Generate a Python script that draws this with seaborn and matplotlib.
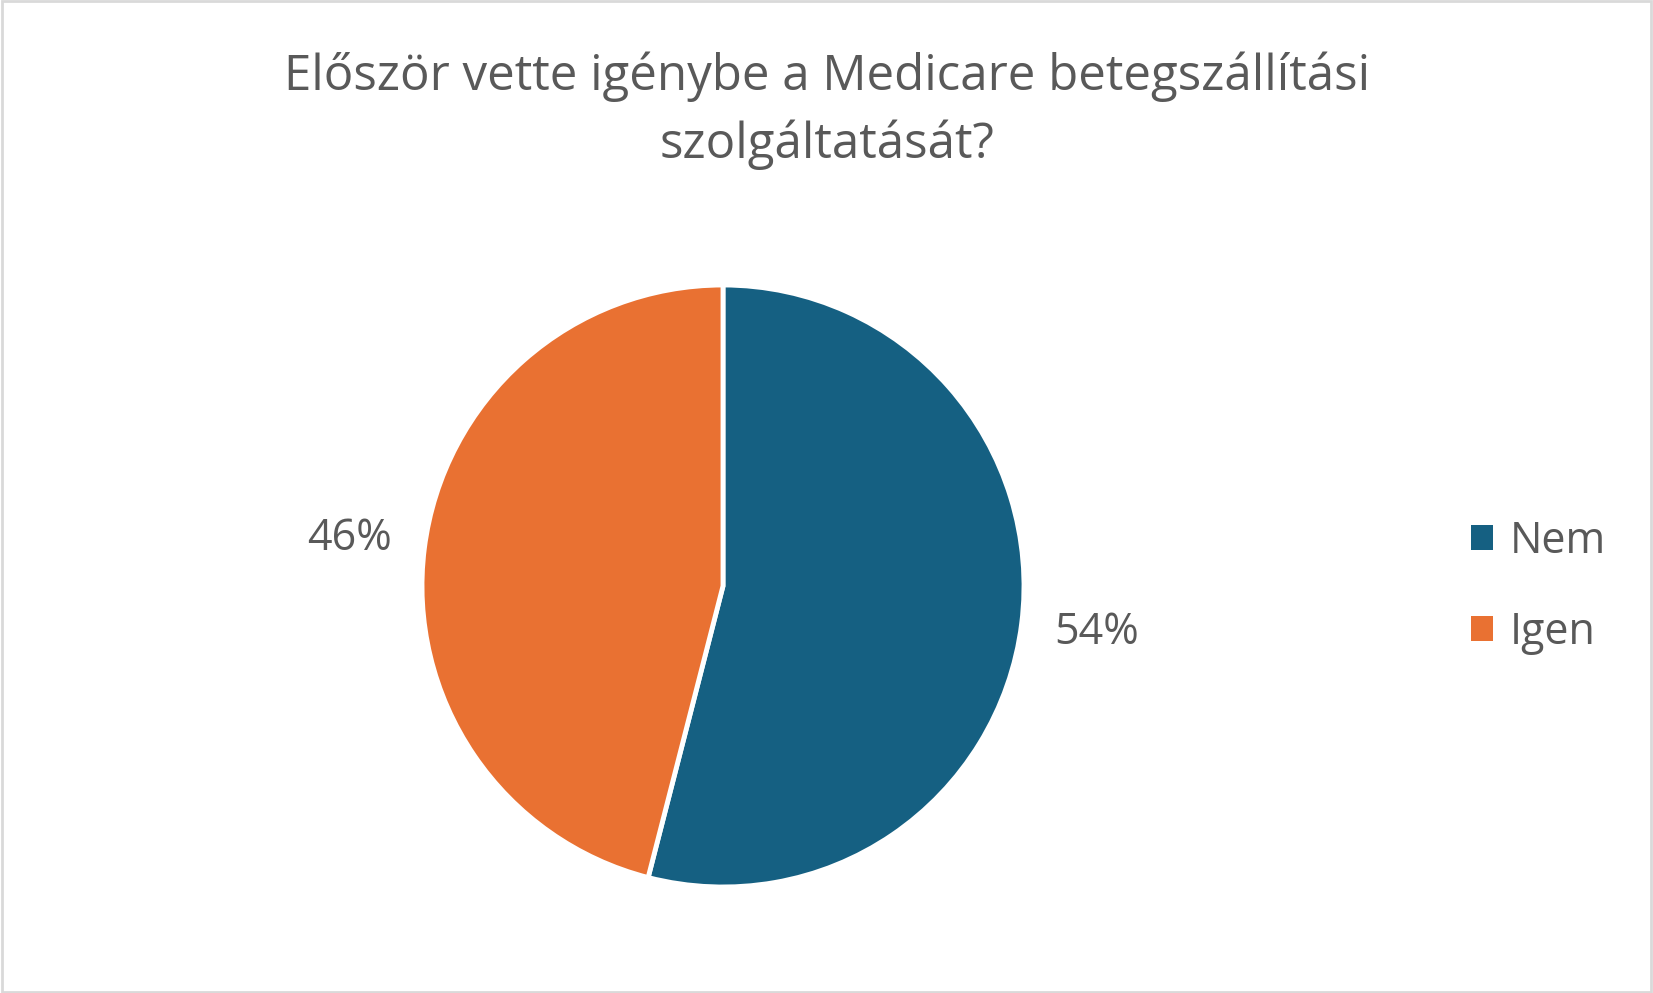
import matplotlib
matplotlib.use("Agg")
import matplotlib.pyplot as plt
import seaborn as sns
from matplotlib.patches import Patch, Rectangle

# Chart data
categories = ["Nem", "Igen"]
shares = [54, 46]
title_text = "Először vette igénybe a Medicare betegszállítási\nszolgáltatását?"

sns.set_theme(style="white")
plt.rcParams['font.family'] = ['Open Sans', 'DejaVu Sans']

palette = sns.color_palette(["#156082", "#E97132"])
text_color = "#595959"

W, H = 1653, 993
fig = plt.figure(figsize=(W / 100, H / 100), dpi=100)
fig.patch.set_facecolor("white")

# pie area, in pixels: centre (723, 586), radius ~301
cx, cy, r = 723, 586, 301
ax = fig.add_axes([(cx - r) / W, (H - cy - r) / H, 2 * r / W, 2 * r / H])
wedges, texts, autotexts = ax.pie(
    shares,
    colors=palette,
    startangle=90,
    counterclock=False,
    autopct=lambda p: f"{p:.0f}%",
    pctdistance=1.25,
    wedgeprops=dict(edgecolor="white", linewidth=3.5),
    textprops=dict(color=text_color, fontsize=31),
)
ax.set_xlim(-1, 1)
ax.set_ylim(-1, 1)
ax.set_aspect("equal")
ax.axis("off")

fig.text(0.5, 1 - 111 / H, title_text, ha="center", va="center",
         fontsize=35.5, color=text_color, linespacing=1.45)

handles = [Patch(facecolor=c, edgecolor="none") for c in palette]
leg = fig.legend(handles, categories, loc="center left",
                 bbox_to_anchor=(1454 / W, 1 - 587 / H), frameon=False,
                 fontsize=31, handlelength=0.5, handleheight=0.5,
                 handletextpad=0.4, labelspacing=1.08, borderaxespad=0)
for t in leg.get_texts():
    t.set_color(text_color)

# light grey frame round the chart
fig.patches.append(Rectangle((0.001, 0.001), 0.998, 0.998, transform=fig.transFigure,
                             fill=False, edgecolor="#D9D9D9", linewidth=2))

fig.savefig("out.png", dpi=100)
